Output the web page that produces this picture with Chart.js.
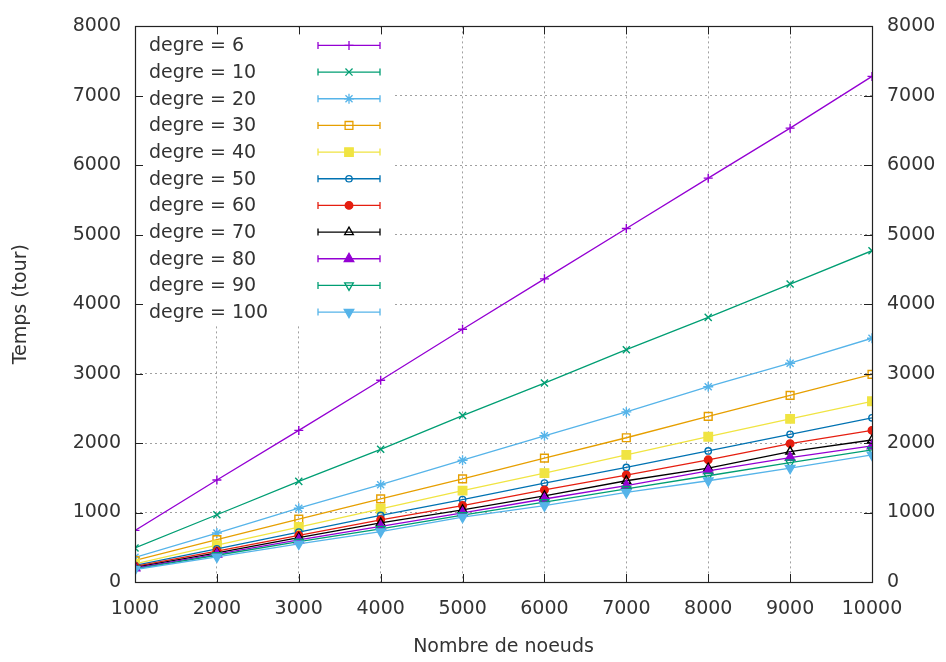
<!DOCTYPE html>
<html>
<head>
<meta charset="utf-8">
<script src="https://cdn.jsdelivr.net/npm/chart.js@4/dist/chart.umd.min.js"></script>
<style>
  html, body { margin: 0; padding: 0; background: #fff; }
  #wrap { width: 946px; height: 662px; }
</style>
</head>
<body>
<div id="wrap"><canvas id="chart" width="946" height="662"></canvas></div>
<script>
// Nombre de noeuds (x axis)
const noeuds = [1000, 2000, 3000, 4000, 5000, 6000, 7000, 8000, 9000, 10000];

// Temps (tour) for each degree
const degre6   = [743, 1468, 2183, 2905, 3640, 4365, 5090, 5815, 6535, 7280];
const degre10  = [490, 968, 1449, 1911, 2397, 2865, 3345, 3810, 4290, 4770];
const degre20  = [355, 705, 1062, 1401, 1754, 2105, 2449, 2812, 3150, 3510];
const degre30  = [310, 610, 905, 1197, 1485, 1783, 2077, 2385, 2688, 2990];
const degre40  = [262, 530, 791, 1054, 1315, 1568, 1830, 2092, 2349, 2602];
const degre50  = [240, 478, 719, 958, 1187, 1425, 1649, 1887, 2126, 2364];
const degre60  = [225, 445, 672, 896, 1101, 1325, 1540, 1759, 1992, 2183];
const degre70  = [210, 420, 640, 850, 1039, 1240, 1458, 1640, 1878, 2045];
const degre80  = [200, 400, 605, 800, 995, 1195, 1387, 1600, 1792, 1959];
const degre90  = [190, 385, 580, 765, 962, 1150, 1340, 1530, 1720, 1902];
const degre100 = [180, 362, 548, 725, 934, 1100, 1291, 1458, 1640, 1830];

const seriesLabels = ["degre = 6", "degre = 10", "degre = 20", "degre = 30", "degre = 40",
  "degre = 50", "degre = 60", "degre = 70", "degre = 80", "degre = 90", "degre = 100"];
const seriesValues = [degre6, degre10, degre20, degre30, degre40, degre50,
  degre60, degre70, degre80, degre90, degre100];

const yTicks = [0, 1000, 2000, 3000, 4000, 5000, 6000, 7000, 8000];

// gnuplot default palette and point types
const seriesColors = ["#9400d3", "#009e73", "#56b4e9", "#e69f00", "#f0e442", "#0072b2",
  "#e51e10", "#000000", "#9400d3", "#009e73", "#56b4e9"];
const markers = [
  { style: "cross", radius: 4.5, fill: false, rot: 0 },
  { style: "crossRot", radius: 5, fill: false, rot: 0 },
  { style: "star", radius: 5, fill: false, rot: 0 },
  { style: "rect", radius: 5.5, fill: false, rot: 0 },
  { style: "rect", radius: 6, fill: true, rot: 0 },
  { style: "circle", radius: 3.2, fill: false, rot: 0 },
  { style: "circle", radius: 3.8, fill: true, rot: 0 },
  { style: "triangle", radius: 5, fill: false, rot: 0 },
  { style: "triangle", radius: 5.5, fill: true, rot: 0 },
  { style: "triangle", radius: 5, fill: false, rot: 180 },
  { style: "triangle", radius: 5.5, fill: true, rot: 180 },
];

const FONT = "'DejaVu Sans', sans-serif";
const TEXT = "#333333";

const datasets = seriesValues.map((vals, i) => ({
  label: seriesLabels[i],
  data: noeuds.map((x, j) => ({ x: x, y: vals[j] })),
  borderColor: seriesColors[i],
  backgroundColor: seriesColors[i],
  borderWidth: 1.3,
  pointStyle: markers[i].style,
  pointRadius: markers[i].radius,
  pointRotation: markers[i].rot,
  pointBorderWidth: 1.4,
  pointBorderColor: seriesColors[i],
  pointBackgroundColor: markers[i].fill ? seriesColors[i] : "rgba(0,0,0,0)",
  tension: 0,
  order: seriesValues.length - i, // later series drawn on top, like gnuplot
}));

// frame, inward tick marks and the legend box (gnuplot look)
const gnuplotFrame = {
  id: "gnuplotFrame",
  afterDatasetsDraw(chart) {
    const { ctx, chartArea: a, scales } = chart;
    ctx.save();

    // legend box hides the grid below it
    const lx = a.left + 1, ly = a.top + 1, lw = 259, lh = 297;
    ctx.fillStyle = "#ffffff";
    ctx.fillRect(lx, ly, lw, lh);

    ctx.font = "19px " + FONT;
    ctx.textBaseline = "middle";
    ctx.textAlign = "left";
    for (let i = 0; i < seriesLabels.length; i++) {
      const y = a.top + 19 + i * 26.67;
      ctx.fillStyle = TEXT;
      ctx.fillText(seriesLabels[i], 149, y + 1);

      const c = seriesColors[i];
      ctx.strokeStyle = c;
      ctx.lineWidth = 1.3;
      ctx.beginPath();
      ctx.moveTo(318, y); ctx.lineTo(380, y);
      ctx.moveTo(318, y - 3.5); ctx.lineTo(318, y + 3.5);
      ctx.moveTo(380, y - 3.5); ctx.lineTo(380, y + 3.5);
      ctx.stroke();

      const m = markers[i];
      ctx.fillStyle = m.fill ? c : "rgba(0,0,0,0)";
      if (Chart.helpers && Chart.helpers.drawPoint) {
        Chart.helpers.drawPoint(ctx, {
          pointStyle: m.style, radius: m.radius, rotation: m.rot, borderWidth: 1.4,
        }, 349, y);
      }
    }

    // inward ticks on all four sides
    ctx.strokeStyle = "#222222";
    ctx.lineWidth = 1;
    ctx.beginPath();
    const tl = 8;
    noeuds.forEach((v) => {
      const x = Math.round(scales.x.getPixelForValue(v)) + 0.5;
      ctx.moveTo(x, a.bottom); ctx.lineTo(x, a.bottom - tl);
      ctx.moveTo(x, a.top); ctx.lineTo(x, a.top + tl);
    });
    yTicks.forEach((v) => {
      const y = Math.round(scales.y.getPixelForValue(v)) + 0.5;
      ctx.moveTo(a.left, y); ctx.lineTo(a.left + tl, y);
      ctx.moveTo(a.right, y); ctx.lineTo(a.right - tl, y);
    });
    ctx.stroke();

    // border
    ctx.strokeStyle = "#222222";
    ctx.lineWidth = 1.2;
    ctx.strokeRect(Math.round(a.left) + 0.5, Math.round(a.top) + 0.5,
      Math.round(a.right - a.left), Math.round(a.bottom - a.top));
    ctx.restore();
  },
};

const gridOpts = { color: "#a0a0a0", lineWidth: 1, drawTicks: false };
const borderOpts = { display: false, dash: [2, 3] };
const plainNumber = (v) => String(v);

new Chart(document.getElementById("chart"), {
  type: "line",
  data: { datasets: datasets },
  options: {
    responsive: false,
    animation: false,
    layout: { padding: { top: 20, left: 0, right: 0, bottom: 0 } },
    plugins: { legend: { display: false }, tooltip: { enabled: false } },
    scales: {
      x: {
        type: "linear",
        min: 1000,
        max: 10000,
        afterFit: (s) => { s.height = 80; },
        ticks: { stepSize: 1000, color: TEXT, font: { family: FONT, size: 19 }, padding: 16,
          maxRotation: 0, callback: plainNumber },
        grid: gridOpts,
        border: borderOpts,
        title: { display: true, text: "Nombre de noeuds", color: TEXT,
          font: { family: FONT, size: 19 }, padding: { top: 4, bottom: 4 } },
      },
      y: {
        type: "linear",
        position: "left",
        min: 0,
        max: 8000,
        afterFit: (s) => { s.width = 135; },
        ticks: { stepSize: 1000, color: TEXT, font: { family: FONT, size: 19 }, padding: 14,
          callback: plainNumber },
        grid: gridOpts,
        border: borderOpts,
        title: { display: true, text: "Temps (tour)", color: TEXT,
          font: { family: FONT, size: 19 }, padding: { top: 10, bottom: 8 } },
      },
      y2: {
        type: "linear",
        position: "right",
        min: 0,
        max: 8000,
        afterFit: (s) => { s.width = 74; },
        ticks: { stepSize: 1000, color: TEXT, font: { family: FONT, size: 19 }, padding: 15,
          callback: plainNumber },
        grid: { display: false, drawTicks: false },
        border: { display: false },
      },
    },
  },
  plugins: [gnuplotFrame],
});
</script>
</body>
</html>
